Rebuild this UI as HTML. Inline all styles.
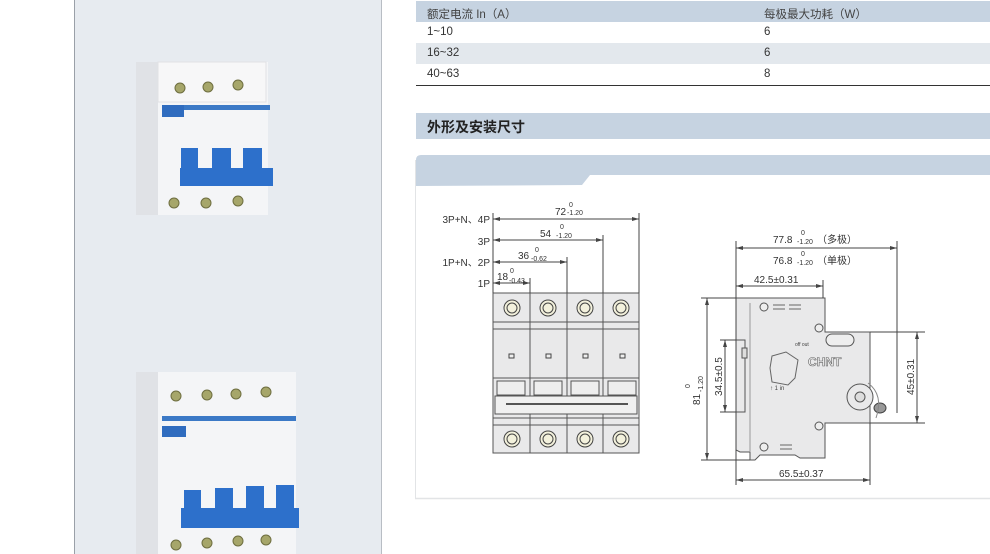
<!DOCTYPE html>
<html><head><meta charset="utf-8"><style>
body{margin:0;width:990px;height:554px;overflow:hidden;background:#fff;font-family:"Liberation Sans","Noto Sans CJK SC",sans-serif;position:relative}
.a{position:absolute}
.t{font-size:11.5px;color:#333}
</style></head><body>
<div class="a" style="left:74px;top:0;width:306px;height:554px;background:#e7ebf0;border-left:1px solid #9aa0a8;border-right:1px solid #b8bdc4"></div>

<!-- table -->
<div class="a" style="left:416px;top:1px;width:574px;height:21px;background:#c6d3e1"></div>
<div class="a" style="left:416px;top:43px;width:574px;height:21px;background:#e3e8ed"></div>
<div class="a" style="left:416px;top:85px;width:574px;height:1px;background:#333"></div>
<div class="a t" style="left:427px;top:6px;color:#444">额定电流 In（A）</div>
<div class="a t" style="left:764px;top:6px;color:#444">每极最大功耗（W）</div>
<div class="a t" style="left:427px;top:26px">1~10</div><div class="a t" style="left:764px;top:26px">6</div>
<div class="a t" style="left:427px;top:47px">16~32</div><div class="a t" style="left:764px;top:47px">6</div>
<div class="a t" style="left:427px;top:68px">40~63</div><div class="a t" style="left:764px;top:68px">8</div>

<div class="a" style="left:416px;top:113px;width:574px;height:26px;background:#c6d3e1"></div>
<div class="a" style="left:427px;top:117px;font-size:14px;font-weight:bold;color:#222">外形及安装尺寸</div>

<svg class="a" style="left:0;top:0" width="990" height="554" font-family="Liberation Sans, Noto Sans CJK SC, sans-serif">
<path d="M416,498 L416,160 Q416,155 421,155 L990,155 L990,175 L590,175 L582,185 L416,186" fill="#c6d3e1"/>
<line x1="415.5" y1="160" x2="415.5" y2="498" stroke="#e2e4e6"/>
<line x1="415" y1="498.5" x2="990" y2="498.5" stroke="#e2e4e6" stroke-width="1.5"/>

<!-- breaker 1 -->
<g>
<rect x="136" y="62" width="132" height="153" fill="#f4f5f7"/>
<rect x="136" y="62" width="22" height="153" fill="#e0e2e6"/>
<rect x="158" y="62" width="108" height="40" fill="#f7f7f8" stroke="#e0e1e4"/>
<circle cx="180" cy="88" r="5" fill="#a6a66a" stroke="#6e6e40"/><circle cx="208" cy="87" r="5" fill="#a6a66a" stroke="#6e6e40"/><circle cx="238" cy="85" r="5" fill="#a6a66a" stroke="#6e6e40"/>
<rect x="162" y="105" width="108" height="5" fill="#3b79c6"/>
<rect x="162" y="105" width="22" height="12" fill="#2f6cbf"/>
<rect x="180" y="168" width="93" height="18" fill="#2d70cb"/>
<rect x="181" y="148" width="17" height="24" fill="#2d70cb"/><rect x="212" y="148" width="19" height="24" fill="#2d70cb"/><rect x="243" y="148" width="19" height="24" fill="#2d70cb"/>
<circle cx="174" cy="203" r="5" fill="#a6a66a" stroke="#6e6e40"/><circle cx="206" cy="203" r="5" fill="#a6a66a" stroke="#6e6e40"/><circle cx="238" cy="201" r="5" fill="#a6a66a" stroke="#6e6e40"/>
</g>
<!-- breaker 2 -->
<g>
<rect x="136" y="372" width="160" height="182" fill="#f4f5f7"/>
<rect x="136" y="372" width="22" height="182" fill="#e0e2e6"/>
<circle cx="176" cy="396" r="5" fill="#a6a66a" stroke="#6e6e40"/><circle cx="207" cy="395" r="5" fill="#a6a66a" stroke="#6e6e40"/><circle cx="236" cy="394" r="5" fill="#a6a66a" stroke="#6e6e40"/><circle cx="266" cy="392" r="5" fill="#a6a66a" stroke="#6e6e40"/>
<rect x="162" y="416" width="134" height="5" fill="#3b79c6"/>
<rect x="162" y="426" width="24" height="11" fill="#2f6cbf"/>
<rect x="181" y="508" width="118" height="20" fill="#2d70cb"/>
<rect x="184" y="490" width="17" height="24" fill="#2d70cb"/><rect x="215" y="488" width="18" height="24" fill="#2d70cb"/><rect x="246" y="486" width="18" height="24" fill="#2d70cb"/><rect x="276" y="485" width="18" height="24" fill="#2d70cb"/>
<circle cx="176" cy="545" r="5" fill="#a6a66a" stroke="#6e6e40"/><circle cx="207" cy="543" r="5" fill="#a6a66a" stroke="#6e6e40"/><circle cx="238" cy="541" r="5" fill="#a6a66a" stroke="#6e6e40"/><circle cx="266" cy="540" r="5" fill="#a6a66a" stroke="#6e6e40"/>
</g>

<!-- front view -->
<g stroke="#555" stroke-width="1" fill="#e9e9ea">
<rect x="493" y="293" width="146" height="160"/>
<line x1="530" y1="293" x2="530" y2="453"/><line x1="567" y1="293" x2="567" y2="453"/><line x1="603" y1="293" x2="603" y2="453"/>
<line x1="493" y1="322" x2="639" y2="322"/><line x1="493" y1="329" x2="639" y2="329"/>
<line x1="493" y1="378" x2="639" y2="378"/>
<line x1="493" y1="418" x2="639" y2="418"/><line x1="493" y1="425" x2="639" y2="425"/>
<rect x="497" y="381" width="28" height="14" fill="#eee"/><rect x="534" y="381" width="28" height="14" fill="#eee"/><rect x="571" y="381" width="28" height="14" fill="#eee"/><rect x="608" y="381" width="28" height="14" fill="#eee"/>
<rect x="495" y="396" width="142" height="18" fill="#f0f0f0"/>
<line x1="506" y1="404" x2="628" y2="404" stroke-width="2"/>
</g>
<g fill="#eee" stroke="#444">
<rect x="509" y="354" width="5" height="4"/><rect x="546" y="354" width="5" height="4"/><rect x="583" y="354" width="5" height="4"/><rect x="620" y="354" width="5" height="4"/>
</g>
<g stroke="#444" fill="#f3f1dc">
<circle cx="512" cy="308" r="8"/><circle cx="548" cy="308" r="8"/><circle cx="585" cy="308" r="8"/><circle cx="621" cy="308" r="8"/>
<circle cx="512" cy="439" r="8"/><circle cx="548" cy="439" r="8"/><circle cx="585" cy="439" r="8"/><circle cx="621" cy="439" r="8"/>
<circle cx="512" cy="308" r="5"/><circle cx="548" cy="308" r="5"/><circle cx="585" cy="308" r="5"/><circle cx="621" cy="308" r="5"/>
<circle cx="512" cy="439" r="5"/><circle cx="548" cy="439" r="5"/><circle cx="585" cy="439" r="5"/><circle cx="621" cy="439" r="5"/>
</g>
<g stroke="#444" stroke-width="1">
<line x1="493" y1="213" x2="493" y2="293"/>
<line x1="639" y1="213" x2="639" y2="293"/><line x1="603" y1="235" x2="603" y2="293"/><line x1="567" y1="257" x2="567" y2="293"/><line x1="530" y1="278" x2="530" y2="293"/>
<line x1="493" y1="219" x2="639" y2="219"/><line x1="493" y1="240" x2="603" y2="240"/><line x1="493" y1="262" x2="567" y2="262"/><line x1="493" y1="283" x2="530" y2="283"/>
</g>
<g fill="#444">
<path d="M493,219 l7,-2 v4z M639,219 l-7,-2 v4z M493,240 l7,-2 v4z M603,240 l-7,-2 v4z M493,262 l7,-2 v4z M567,262 l-7,-2 v4z M493,283 l7,-2 v4z M530,283 l-7,-2 v4z"/>
</g>
<g font-size="10" fill="#333" text-anchor="end">
<text x="490" y="223">3P+N、4P</text><text x="490" y="245">3P</text><text x="490" y="266">1P+N、2P</text><text x="490" y="287">1P</text>
</g>
<g fill="#333" font-size="10">
<text x="555" y="215">72</text><text x="569" y="207" font-size="7">0</text><text x="567" y="215" font-size="7">-1.20</text>
<text x="540" y="237">54</text><text x="560" y="229" font-size="7">0</text><text x="556" y="238" font-size="7">-1.20</text>
<text x="518" y="259">36</text><text x="535" y="252" font-size="7">0</text><text x="531" y="261" font-size="7">-0.62</text>
<text x="497" y="280">18</text><text x="510" y="273" font-size="7">0</text><text x="509" y="283" font-size="7">-0.43</text>
</g>

<!-- side view -->
<path d="M736,298 L825,298 L825,332 L870,332 L870,423 L825,423 L825,458 L800,458 L795,455 L760,455 L755,460 L750,460 L750,452 L740,452 L736,450 Z" fill="#e9e9ea" stroke="#555"/>
<path d="M736,298 L736,340 L745,340 L745,412 L736,412" fill="none" stroke="#555"/>
<path d="M750,303 L750,452" fill="none" stroke="#999"/>
<rect x="742" y="348" width="5" height="10" fill="#ddd" stroke="#555"/>
<g fill="#eee" stroke="#555">
<circle cx="764" cy="307" r="4"/><circle cx="819" cy="328" r="4"/><circle cx="819" cy="426" r="4"/><circle cx="764" cy="447" r="4"/>
<rect x="826" y="334" width="28" height="12" rx="6"/>
</g>
<g stroke="#666"><line x1="773" y1="305" x2="785" y2="305"/><line x1="773" y1="309" x2="785" y2="309"/><line x1="789" y1="305" x2="801" y2="305"/><line x1="789" y1="309" x2="801" y2="309"/>
<line x1="780" y1="445" x2="792" y2="445"/><line x1="780" y1="449" x2="792" y2="449"/></g>
<path d="M772,356 L786,352 L798,360 L795,378 L788,385 L772,382 L770,368Z" fill="none" stroke="#666"/>
<text x="808" y="366" font-size="12" font-weight="bold" fill="#eee" stroke="#666" stroke-width="0.6">CHNT</text>
<text x="795" y="346" font-size="5" fill="#444">off out</text>
<text x="770" y="390" font-size="6" fill="#444">↑ 1 in</text>
<circle cx="860" cy="397" r="13" fill="#e9e9ea" stroke="#555"/><circle cx="860" cy="397" r="5" fill="#ddd" stroke="#555"/>
<ellipse cx="880" cy="408" rx="6" ry="5" fill="#999" stroke="#444"/>
<path d="M868,383 Q884,395 876,418" fill="none" stroke="#888"/>
<g stroke="#444">
<line x1="736" y1="241" x2="736" y2="485"/><line x1="897" y1="241" x2="897" y2="413"/><line x1="823" y1="280" x2="823" y2="298"/><line x1="870" y1="423" x2="870" y2="485"/>
<line x1="736" y1="248" x2="897" y2="248"/><line x1="736" y1="286" x2="823" y2="286"/><line x1="736" y1="480" x2="870" y2="480"/>
<line x1="701" y1="298" x2="736" y2="298"/><line x1="701" y1="460" x2="750" y2="460"/><line x1="707" y1="298" x2="707" y2="460"/>
<line x1="720" y1="340" x2="736" y2="340"/><line x1="720" y1="412" x2="736" y2="412"/><line x1="725" y1="340" x2="725" y2="412"/>
<line x1="870" y1="332" x2="925" y2="332"/><line x1="870" y1="423" x2="925" y2="423"/><line x1="917" y1="332" x2="917" y2="423"/>
</g>
<path fill="#444" d="M736,248 l7,-2 v4z M897,248 l-7,-2 v4z M736,286 l7,-2 v4z M823,286 l-7,-2 v4z M736,480 l7,-2 v4z M870,480 l-7,-2 v4z M707,298 l-2,7 h4z M707,460 l-2,-7 h4z M725,340 l-2,7 h4z M725,412 l-2,-7 h4z M917,332 l-2,7 h4z M917,423 l-2,-7 h4z"/>
<g font-size="10" fill="#333">
<text x="773" y="243">77.8</text><text x="801" y="235" font-size="7">0</text><text x="797" y="244" font-size="7">-1.20</text><text x="817" y="243">（多极）</text>
<text x="773" y="264">76.8</text><text x="801" y="256" font-size="7">0</text><text x="797" y="265" font-size="7">-1.20</text><text x="817" y="264">（单极）</text>
<text x="754" y="283">42.5±0.31</text>
<text x="779" y="477">65.5±0.37</text>
<text transform="translate(722,396) rotate(-90)">34.5±0.5</text>
<text transform="translate(914,395) rotate(-90)">45±0.31</text>
<text transform="translate(700,405) rotate(-90)">81</text>
<text transform="translate(690,388) rotate(-90)" font-size="7">0</text>
<text transform="translate(703,392) rotate(-90)" font-size="7">-1.20</text>
</g>
</svg>
</body></html>
